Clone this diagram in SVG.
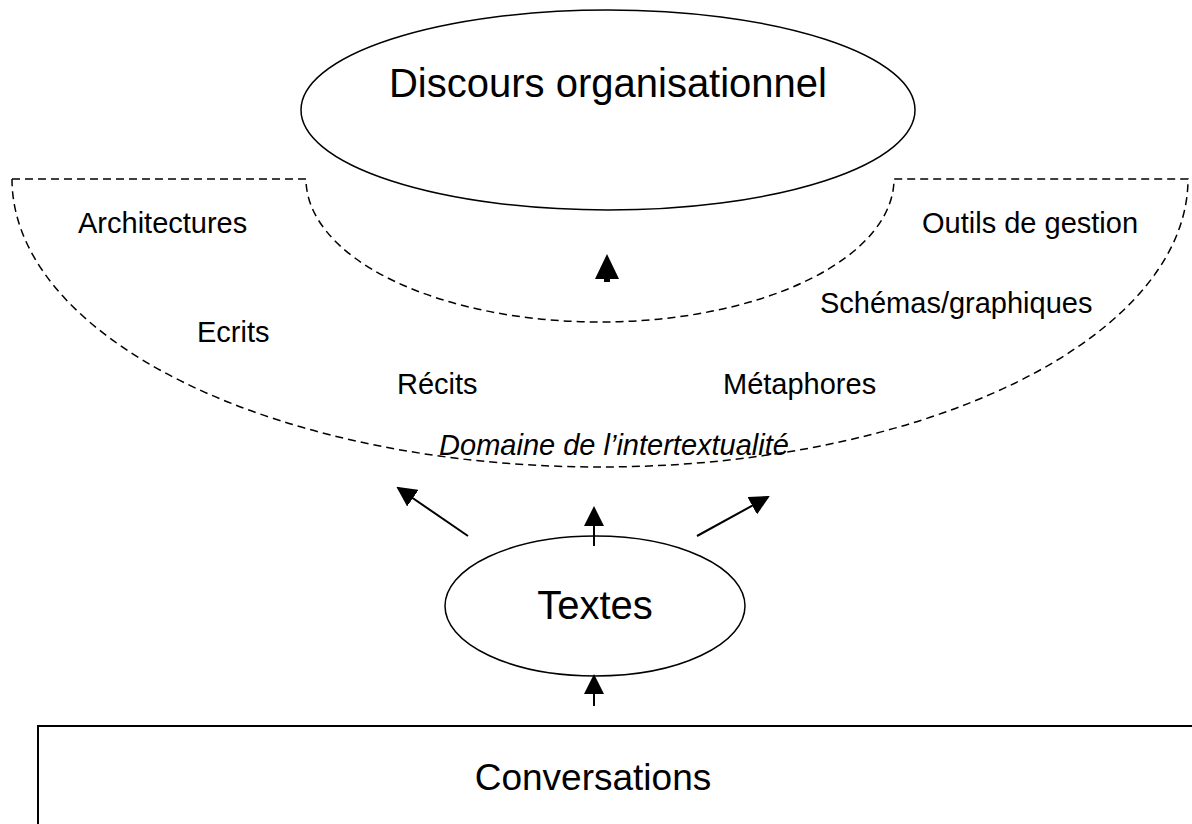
<svg xmlns="http://www.w3.org/2000/svg" width="1192" height="824" viewBox="0 0 1192 824">
<style>
.lbl{font-family:"Liberation Sans",Arial,sans-serif;font-size:29px;fill:#000}
.big{font-family:"Liberation Sans",Arial,sans-serif;font-size:40px;fill:#000;text-anchor:middle}
.dash{fill:none;stroke:#000;stroke-width:1.5;stroke-dasharray:8,5}
.solid{fill:#fff;stroke:#000;stroke-width:1.5}
.conn{stroke:#000;stroke-width:2;fill:none;marker-end:url(#ah)}
</style>
<defs>
<marker id="ah" markerWidth="10" markerHeight="10" refX="9" refY="5" orient="auto" markerUnits="strokeWidth" viewBox="0 0 10 10">
<path d="M0,0 L10,5 L0,10 z" fill="#000"/>
</marker>
</defs>
<rect width="1192" height="824" fill="#fff"/>
<g id="domaine">
<path class="dash" d="M12,179 L306,179 A294,143 0 0 0 894,179 L1188,179 A588,288 0 0 1 12,179"/>
<text class="lbl" x="78" y="233">Architectures</text>
<text class="lbl" x="922" y="233">Outils de gestion</text>
<text class="lbl" x="820" y="313">Schémas/graphiques</text>
<text class="lbl" x="197" y="342">Ecrits</text>
<text class="lbl" x="397" y="394">Récits</text>
<text class="lbl" x="723" y="394">Métaphores</text>
<text class="lbl" x="614" y="455" text-anchor="middle" font-style="italic">Domaine de l’intertextualité</text>
</g>
<g id="discours">
<ellipse class="solid" cx="608" cy="110" rx="307" ry="100"/>
<text class="big" x="608" y="97">Discours organisationnel</text>
</g>
<g id="textes">
<ellipse class="solid" cx="595" cy="606" rx="150" ry="70"/>
<text class="big" x="595" y="619">Textes</text>
</g>
<g id="conversations">
<rect x="38" y="726" width="1170" height="120" fill="#fff" stroke="#000" stroke-width="2"/>
<text class="big" x="593" y="790" style="font-size:37px">Conversations</text>
</g>
<g id="connectors">
<path d="M607,254 L619,279 L595,279 z" fill="#000"/>
<rect x="604" y="278" width="6" height="4" fill="#000"/>
<line class="conn" x1="468" y1="536" x2="398" y2="488"/>
<line class="conn" x1="594" y1="546" x2="594" y2="508"/>
<line class="conn" x1="697" y1="536" x2="768" y2="497"/>
<line class="conn" x1="594" y1="706" x2="594" y2="676"/>
</g>
</svg>
